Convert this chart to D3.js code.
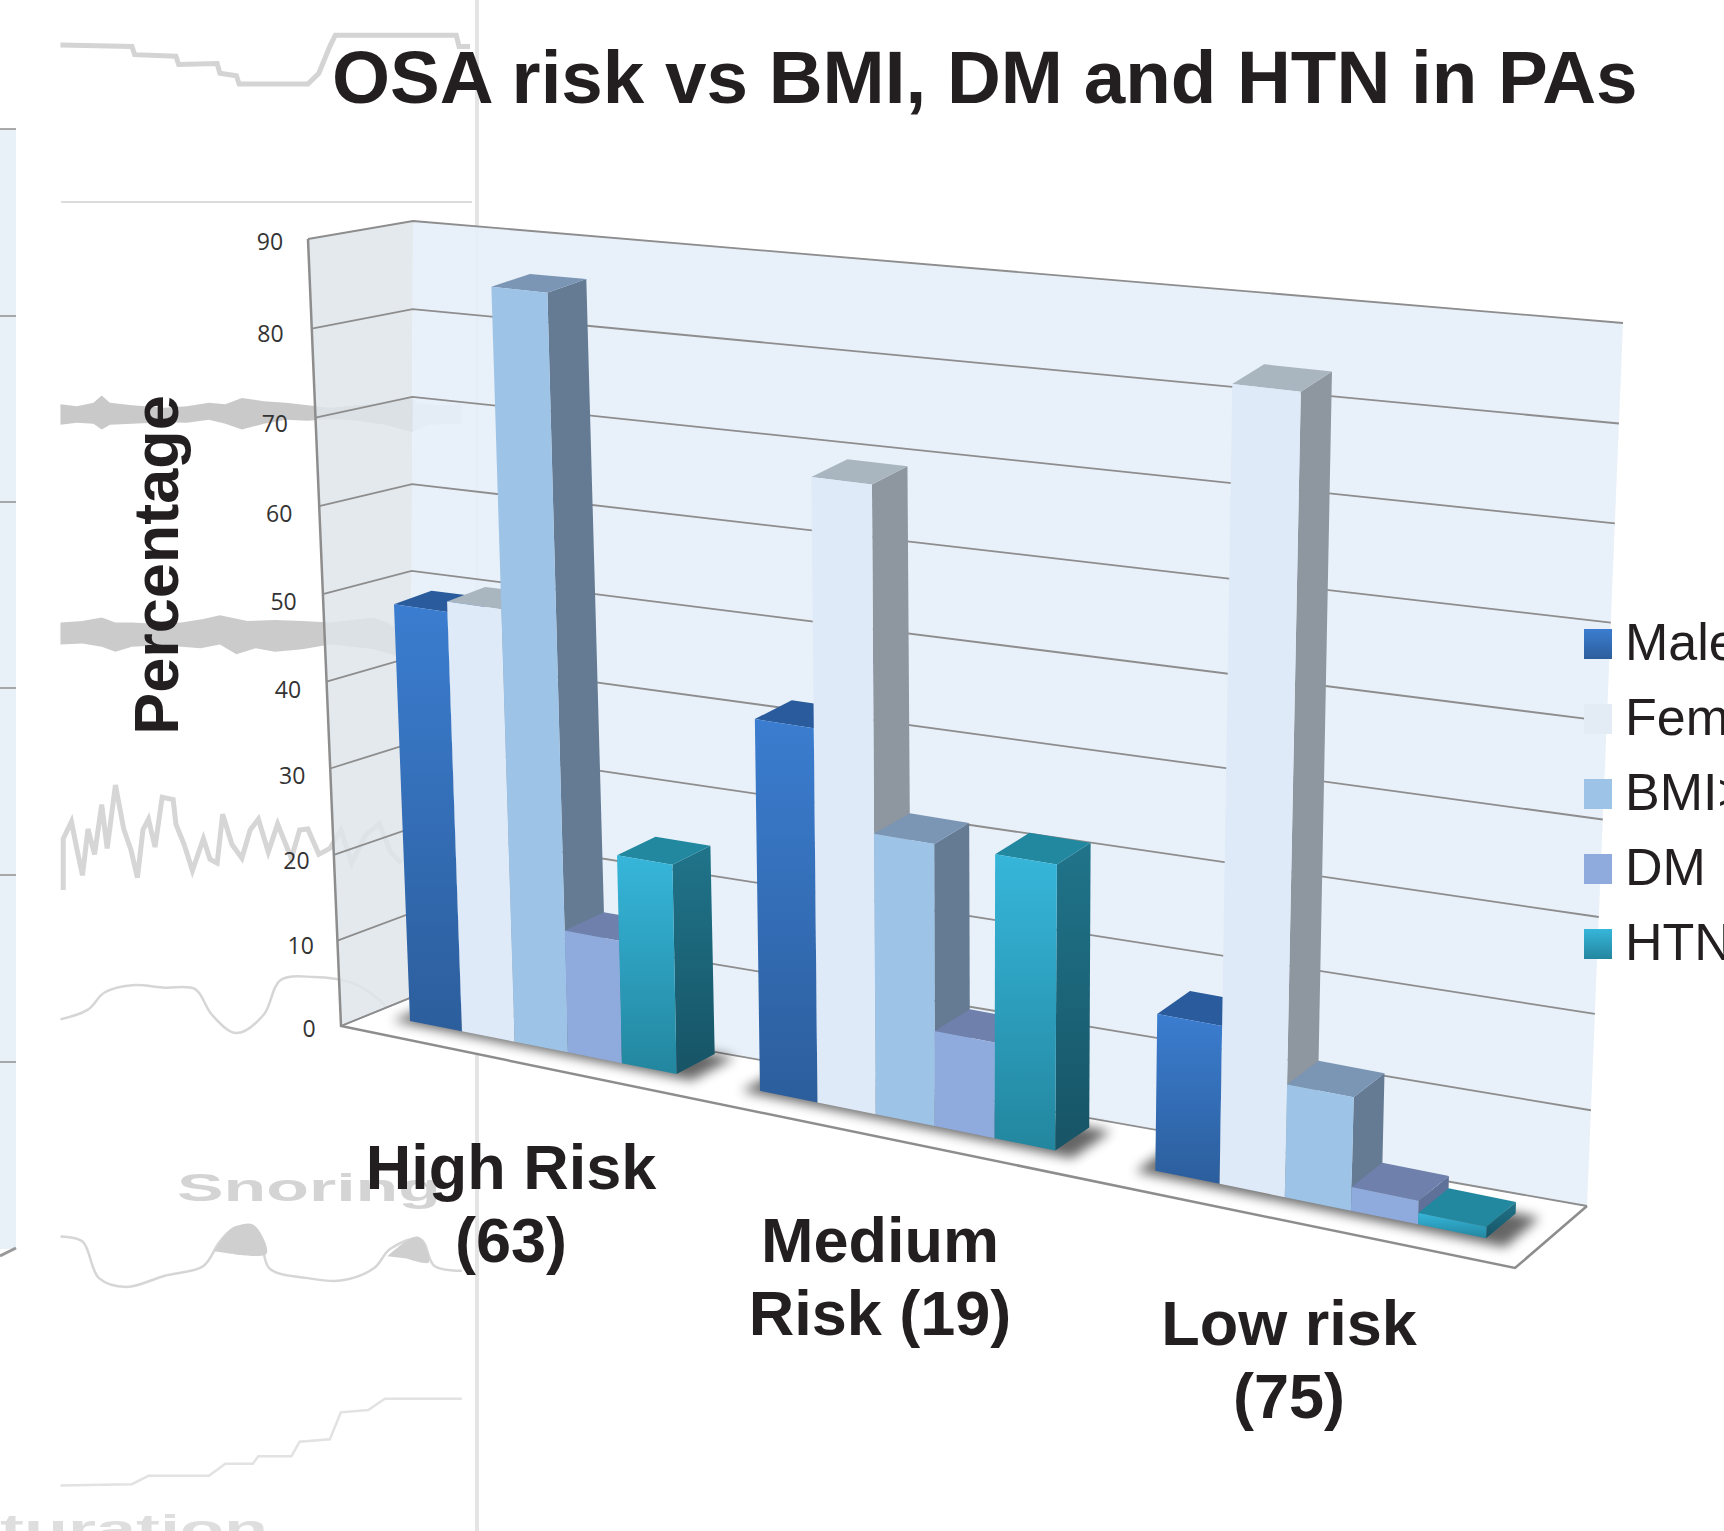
<!DOCTYPE html>
<html>
<head>
<meta charset="utf-8">
<script src="https://cdn.jsdelivr.net/npm/d3@7"></script>
<style>
html, body { margin: 0; padding: 0; background: #fff; overflow: hidden; }
svg { display: block; }
text { font-family: "Liberation Sans", Arial, sans-serif; fill: #231f20; }
</style>
</head>
<body>
<svg width="1724" height="1531"></svg>
<script>
// chart values
const categories = ['High Risk (63)', 'Medium Risk (19)', 'Low risk (75)'];
const categoryLines = [['High Risk', '(63)'], ['Medium', 'Risk (19)'], ['Low risk', '(75)']];
const seriesNames = ['Male', 'Female', 'BMI>30', 'DM', 'HTN'];
const male = [48.3, 41.5, 16.9];
const female = [49.5, 68.8, 83.8];
const bmi = [85.5, 31, 12];
const dm = [14, 10.5, 2.5];
const htn = [23.7, 31, 1.2];
const seriesValues = [male, female, bmi, dm, htn];
const valueTicks = [0, 10, 20, 30, 40, 50, 60, 70, 80, 90];

// faded figure lying behind the chart, in zoom units of the reference
const ghostSteps = [[110,92],[240,95],[245,112],[320,115],[325,132],[395,130],[400,150],[430,155],[435,172],[560,172],[580,150],[600,95],[610,72],[720,72],[830,72],[835,95],[855,95]];
const ghostBandA = [[110,828],[140,832],[170,825],[185,810],[200,825],[240,830],[300,835],[340,832],[380,825],[410,828],[440,815],[480,822],[520,825],[560,830],[600,835],[650,830],[700,825],[745,812],[760,825],[800,830],[840,828],[840,868],[780,870],[750,885],[700,870],[650,862],[600,858],[560,862],[520,860],[480,868],[440,880],[410,868],[380,860],[340,866],[300,865],[240,868],[200,870],[185,880],[170,868],[140,866],[110,870]];
const ghostBandB = [[110,1275],[150,1272],[185,1265],[210,1275],[240,1275],[290,1278],[330,1275],[370,1268],[400,1260],[450,1272],[500,1270],[550,1272],[600,1275],[640,1270],[680,1265],[705,1275],[725,1290],[725,1345],[680,1330],[640,1325],[600,1320],[550,1330],[500,1335],[465,1328],[430,1340],[400,1320],[365,1328],[330,1325],[285,1322],[240,1325],[210,1335],[185,1325],[150,1318],[110,1320]];
const ghostNoise = [[115,1823],[115,1718],[130,1683],[140,1740],[150,1793],[160,1698],[172,1750],[185,1648],[195,1738],[210,1608],[225,1698],[238,1740],[250,1798],[260,1700],[270,1678],[282,1735],[295,1633],[315,1638],[320,1688],[335,1730],[350,1783],[370,1718],[382,1760],[395,1768],[405,1668],[422,1730],[440,1758],[455,1700],[470,1678],[488,1745],[505,1688],[530,1758],[545,1700],[560,1698],[580,1750],[600,1738],[620,1700],[640,1768],[665,1710],[690,1688],[710,1745],[730,1768]];
const ghostCurve = [[110,2088],[160,2068],[190,2033],[240,2018],[300,2023],[355,2026],[385,2078],[430,2116],[480,2078],[510,2008],[570,2001],[640,2013],[690,2048],[730,2098],[770,2118]];
const ghostSnore = [[110,2533],[150,2543],[180,2618],[230,2636],[300,2613],[370,2593],[400,2543],[430,2513],[470,2528],[490,2598],[560,2618],[620,2623],[680,2598],[710,2558],[765,2538],[790,2593],[840,2603]];
const ghostBlobA = [[390,2563],[420,2518],[460,2508],[485,2568],[420,2568]];
const ghostBlobB = [[705,2573],[760,2533],[780,2586],[740,2578]];
const ghostSat = [[110,3043],[240,3040],[270,3023],[380,3023],[410,2998],[460,2998],[470,2983],[530,2983],[545,2953],[600,2948],[620,2893],[670,2888],[700,2865],[840,2865]];
const panelRules = [129, 316, 502, 688, 875, 1062];

const colors = {
    front: [['#3b7dd0', '#2c5e9c'], ['#dfeaf8', '#dfeaf8'], ['#9dc3e7', '#9dc3e7'], ['#8faadc', '#8faadc'], ['#36b6da', '#23869f']],
    top: ['#2a5b9c', '#a9b5bf', '#7b95b4', '#6e80ab', '#22889f'],
    side: [['#2a5b9c', '#234d85'], ['#8e979f', '#8e979f'], ['#647b93', '#647b93'], ['#5f7099', '#5f7099'], ['#20748a', '#175466']],
    legend: [['#3b7dd0', '#2c5e9c'], ['#e3ecf5', '#e3ecf5'], ['#9dc3e7', '#9dc3e7'], ['#8faadc', '#8faadc'], ['#36b6da', '#23869f']]
};

const svg = d3.select('svg');
const defs = svg.append('defs');

function addGradient(id, pair) {
    const g = defs.append('linearGradient').attr('id', id)
        .attr('x1', 0).attr('y1', 0).attr('x2', 0).attr('y2', 1);
    g.append('stop').attr('offset', '0%').attr('stop-color', pair[0]);
    g.append('stop').attr('offset', '100%').attr('stop-color', pair[1]);
}
seriesNames.forEach((s, i) => {
    addGradient('front' + i, colors.front[i]);
    addGradient('side' + i, colors.side[i]);
    addGradient('legend' + i, colors.legend[i]);
});
defs.append('filter').attr('id', 'shadow')
    .attr('x', '-20%').attr('y', '-60%').attr('width', '140%').attr('height', '220%')
    .append('feGaussianBlur').attr('stdDeviation', 6);

// ---- perspective box, anchored on the corners of the plot ----
const backBL = [410, 998], backBR = [1587, 1206], backTR = [1623, 323], backTL = [413, 221];
const frontBL = [341, 1026], frontBR = [1515, 1268], frontTR = [1515, 375], frontTL = [308, 239];

function squareToQuad(p0, p1, p2, p3) {
    const dx1 = p1[0] - p2[0], dx2 = p3[0] - p2[0], sx = p0[0] - p1[0] + p2[0] - p3[0];
    const dy1 = p1[1] - p2[1], dy2 = p3[1] - p2[1], sy = p0[1] - p1[1] + p2[1] - p3[1];
    const den = dx1 * dy2 - dx2 * dy1;
    const g = (sx * dy2 - dx2 * sy) / den;
    const h = (dx1 * sy - sx * dy1) / den;
    const a = p1[0] - p0[0] + g * p1[0], b = p3[0] - p0[0] + h * p3[0];
    const d = p1[1] - p0[1] + g * p1[1], e = p3[1] - p0[1] + h * p3[1];
    return (u, v) => {
        const w = g * u + h * v + 1;
        return [(a * u + b * v + p0[0]) / w, (d * u + e * v + p0[1]) / w];
    };
}
const backPlane = squareToQuad(backBL, backBR, backTR, backTL);
const frontPlane = squareToQuad(frontBL, frontBR, frontTR, frontTL);

// u along the categories, v up the value axis, w from back wall to front
function project(u, v, w) {
    const b = backPlane(u, v), f = frontPlane(u, v);
    return [b[0] + (f[0] - b[0]) * w, b[1] + (f[1] - b[1]) * w];
}

const yScale = d3.scaleLinear().domain([0, 90]).range([0, 1]);
const xGroup = d3.scaleBand().domain(categories).range([0, 0.988]).paddingInner(0.226).paddingOuter(0.112);
const xBar = d3.scaleBand().domain(seriesNames).range([0, xGroup.bandwidth()]);
// groups do not sit on an even band in the picture, this nudges their edges
const xWarp = d3.scaleLinear()
    .domain([0, 0.037, 0.292, 0.369, 0.624, 0.696, 0.951, 1])
    .range([0, 0.037, 0.2875, 0.3653, 0.6203, 0.7005, 0.9612, 1]);
// bars stand nearer the front as the box turns toward the viewer on the right
const barBack = d3.scaleLinear().domain([0.25, 0.95]).range([0.03, 0.27]);
const barFront = d3.scaleLinear().domain([0.25, 0.95]).range([0.584, 0.683]);
const backAt = u => Math.max(0.005, barBack(u));
// bar verticals fan out a bit more than the walls do, and the tops are shallower
const fan = 30, topDepth = 37;
function barPoint(u, v, w) {
    const p = project(u, v, w);
    return [p[0] + fan * (u - 0.45) * v + topDepth * v * (w - 0.6), p[1]];
}

const polyLine = d3.line();
const quad = pts => polyLine(pts) + 'Z';

// ---- ghost layer ----
const gx = d3.scaleLinear().domain([0, 1568]).range([0, 862]);
const gy = d3.scaleLinear().domain([0, 3136]).range([0, 1531]);
const ghostLine = d3.line().x(d => gx(d[0])).y(d => gy(d[1]));
const ghostSmooth = d3.line().x(d => gx(d[0])).y(d => gy(d[1])).curve(d3.curveCatmullRom);
const ghost = svg.append('g').attr('class', 'ghost');

ghost.append('rect').attr('x', 0).attr('y', panelRules[0]).attr('width', 16).attr('height', 1120).attr('fill', '#e8f0f8');
ghost.selectAll('line.panel').data(panelRules).enter().append('line').attr('class', 'panel')
    .attr('x1', 0).attr('x2', 16).attr('y1', d => d).attr('y2', d => d)
    .attr('stroke', '#8f8f8f').attr('stroke-width', 1.5);
ghost.append('path').attr('d', 'M0,1256L16,1248').attr('stroke', '#999').attr('stroke-width', 3);
ghost.append('line').attr('x1', 61).attr('x2', 472).attr('y1', 202).attr('y2', 202).attr('stroke', '#dcdcdc').attr('stroke-width', 2);
ghost.append('path').attr('d', ghostLine(ghostSteps)).attr('fill', 'none').attr('stroke', '#d4d4d4').attr('stroke-width', 5);
ghost.append('path').attr('d', ghostLine(ghostBandA) + 'Z').attr('fill', '#c9c9c9');
ghost.append('path').attr('d', ghostLine(ghostBandB) + 'Z').attr('fill', '#cbcbcb');
ghost.append('path').attr('d', ghostLine(ghostNoise)).attr('fill', 'none').attr('stroke', '#d6d6d6').attr('stroke-width', 5);
ghost.append('path').attr('d', ghostSmooth(ghostCurve)).attr('fill', 'none').attr('stroke', '#d6d6d6').attr('stroke-width', 2.5);
ghost.append('path').attr('d', ghostSmooth(ghostSnore)).attr('fill', 'none').attr('stroke', '#d6d6d6').attr('stroke-width', 2.5);
ghost.append('path').attr('d', ghostSmooth(ghostBlobA) + 'Z').attr('fill', '#cfcfcf');
ghost.append('path').attr('d', ghostSmooth(ghostBlobB) + 'Z').attr('fill', '#cfcfcf');
ghost.append('path').attr('d', ghostLine(ghostSat)).attr('fill', 'none').attr('stroke', '#e2e2e2').attr('stroke-width', 2.5);
ghost.append('text').attr('x', 177).attr('y', 1201).attr('textLength', 264).attr('lengthAdjust', 'spacingAndGlyphs').text('Snoring')
    .style('fill', '#d4d4d4').style('font-weight', 'bold').style('font-size', '38px');
ghost.append('text').attr('x', 0).attr('y', 1542).attr('textLength', 268).attr('lengthAdjust', 'spacingAndGlyphs').text('turation')
    .style('fill', '#dedede').style('font-weight', 'bold').style('font-size', '38px');
ghost.append('rect').attr('x', 475).attr('y', 0).attr('width', 4).attr('height', 1531).attr('fill', '#e4e4e4');

// ---- walls and floor ----
const box = svg.append('g').attr('class', 'box');
box.append('path')
    .attr('d', quad([project(0, 0, 0), project(0, 1, 0), project(0, 1, 1), project(0, 0, 1)]))
    .attr('fill', '#dfe5ea').attr('opacity', 0.85);
box.append('path')
    .attr('d', quad([project(0, 0, 0), project(1, 0, 0), project(1, 1, 0), project(0, 1, 0)]))
    .attr('fill', '#e6eff8').attr('opacity', 0.92);
box.append('path')
    .attr('d', quad([project(0, 0, 0), project(1, 0, 0), project(1, 0, 1), project(0, 0, 1)]))
    .attr('fill', '#fff').attr('stroke', 'none');

// gridlines run along the back wall and forward on the side wall
box.selectAll('path.grid').data(valueTicks).enter().append('path')
    .attr('class', 'grid')
    .attr('d', d => polyLine([project(0, yScale(d), 1), project(0, yScale(d), 0), project(1, yScale(d), 0)]))
    .attr('fill', 'none')
    .attr('stroke', '#8d8d8d')
    .attr('stroke-width', 1.8);
box.append('path')
    .attr('d', polyLine([project(0, 1, 1), project(0, 0, 1), project(1, 0, 1), project(1, 0, 0)]))
    .attr('fill', 'none').attr('stroke', '#8d8d8d').attr('stroke-width', 2.5);
box.append('path')
    .attr('d', polyLine([project(0, 0, 1), project(0, 0, 0)]))
    .attr('fill', 'none').attr('stroke', '#8d8d8d').attr('stroke-width', 1.5);

// tick labels
svg.append('g').attr('class', 'ticks').selectAll('text').data(yScale.ticks(10)).enter().append('text')
    .attr('x', d => project(0, yScale(d), 1)[0] - 32 - 6 * yScale(d) - (d > 0 && d < 90 ? 4 : 0))
    .attr('y', d => project(0, yScale(d), 1)[1] + 11 + 20 * yScale(d) * (1 - yScale(d)))
    .attr('text-anchor', 'middle')
    .style('font-family', '"Open Sans"')
    .style('font-size', '23px')
    .style('fill', '#333')
    .text(d => d);

// ---- bars ----
const bars = svg.append('g').attr('class', 'bars');
categories.forEach((cat, c) => {
    const left = xWarp(xGroup(cat));
    const right = xWarp(xGroup(cat) + xGroup.bandwidth());
    bars.append('path')
        .attr('d', quad([project(left - 0.012, 0, backAt(left)), project(right + 0.018, 0, backAt(right)),
            project(right + 0.018, 0, barFront(right) + 0.07), project(left - 0.012, 0, barFront(left) + 0.07)]))
        .attr('fill', '#000').attr('opacity', 0.6).attr('filter', 'url(#shadow)');
});
categories.forEach((cat, c) => {
    seriesNames.forEach((name, s) => {
        const u0 = xWarp(xGroup(cat) + xBar(name));
        const u1 = xWarp(xGroup(cat) + xBar(name) + xBar.bandwidth());
        const v = yScale(seriesValues[s][c]);
        const f0 = barFront(u0), f1 = barFront(u1), b0 = backAt(u0), b1 = backAt(u1);
        const g = bars.append('g').attr('class', 'bar');
        g.append('path')
            .attr('d', quad([barPoint(u1, 0, f1), barPoint(u1, 0, b1), barPoint(u1, v, b1), barPoint(u1, v, f1)]))
            .attr('fill', `url(#side${s})`);
        g.append('path')
            .attr('d', quad([barPoint(u0, v, f0), barPoint(u1, v, f1), barPoint(u1, v, b1), barPoint(u0, v, b0)]))
            .attr('fill', colors.top[s]);
        g.append('path')
            .attr('d', quad([barPoint(u0, 0, f0), barPoint(u1, 0, f1), barPoint(u1, v, f1), barPoint(u0, v, f0)]))
            .attr('fill', `url(#front${s})`);
    });
});

// ---- text ----
svg.append('text').attr('x', 332).attr('y', 103).text('OSA risk vs BMI, DM and HTN in PAs')
    .style('font-size', '74.6px').style('font-weight', 'bold');
svg.append('text').attr('transform', 'translate(178,565) rotate(-90)').attr('text-anchor', 'middle')
    .text('Percentage').style('font-size', '63px').style('font-weight', 'bold');

const labelX = [511, 880, 1289];
const labelY = [1189, 1262, 1345];
categoryLines.forEach((lines, i) => {
    lines.forEach((line, j) => {
        svg.append('text').attr('x', labelX[i]).attr('y', labelY[i] + j * 73)
            .attr('text-anchor', 'middle').text(line)
            .style('font-size', '63px').style('font-weight', 'bold');
    });
});

// legend runs off the right edge in the reference
const legendTop = d3.scaleLinear().domain([0, 4]).range([629, 929]);
const legend = svg.append('g').attr('class', 'legend');
seriesNames.forEach((name, i) => {
    legend.append('rect').attr('x', 1584).attr('y', legendTop(i)).attr('width', 28).attr('height', 30)
        .attr('fill', `url(#legend${i})`);
    legend.append('text').attr('x', 1625).attr('y', legendTop(i) + 31).text(name)
        .style('font-size', '52px');
});
</script>
</body>
</html>
